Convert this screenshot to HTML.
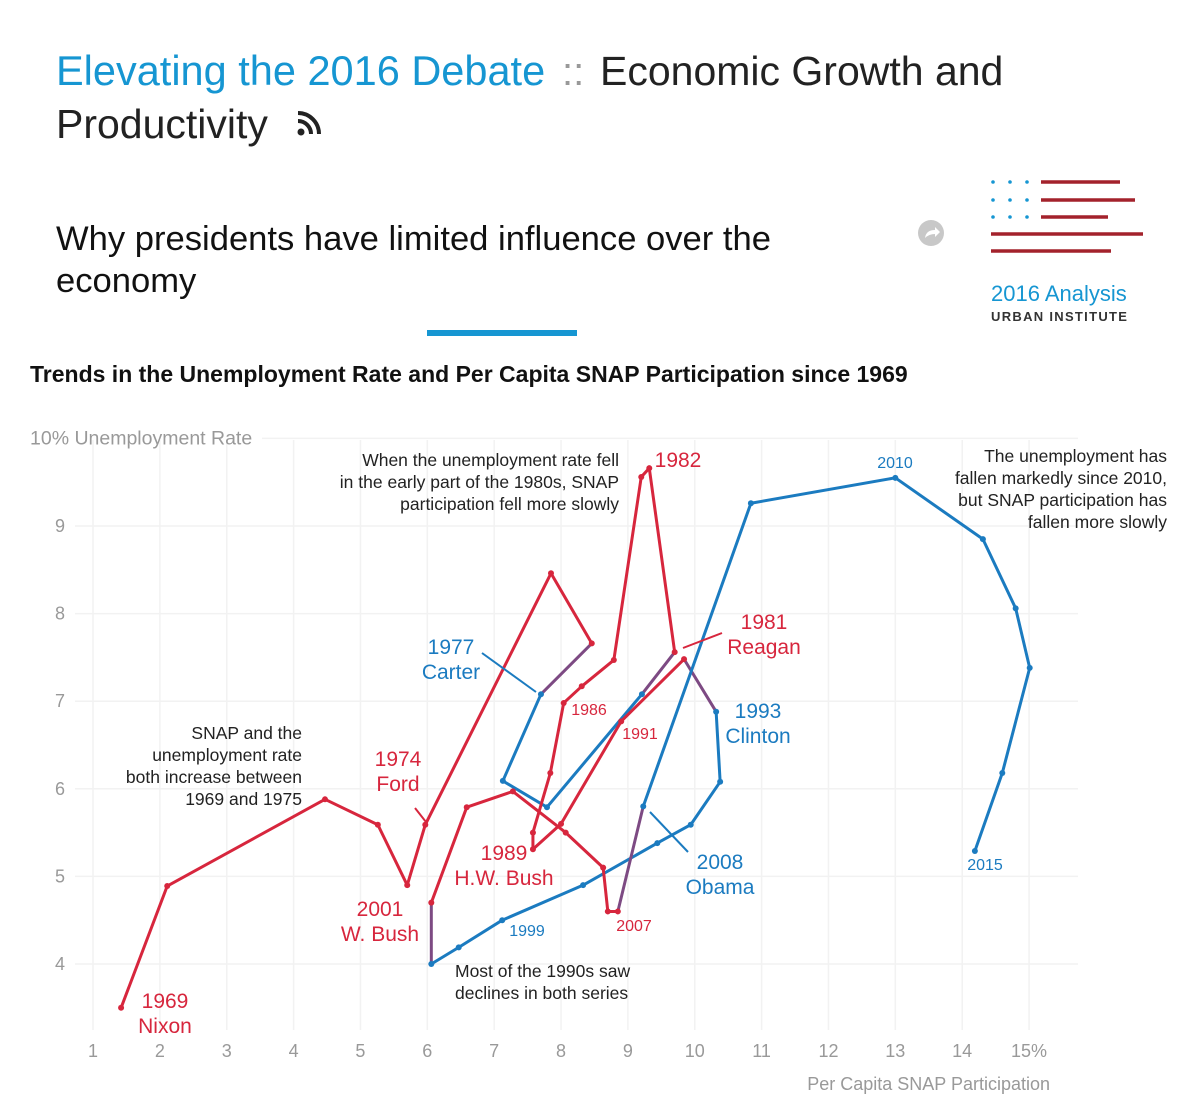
<!DOCTYPE html>
<html><head><meta charset="utf-8">
<style>
html,body{margin:0;padding:0;background:#fff;}
body{width:1200px;height:1107px;overflow:hidden;font-family:"Liberation Sans",sans-serif;}
svg text{font-family:"Liberation Sans",sans-serif;}
</style></head>
<body>
<svg id="chart" width="1200" height="1107" viewBox="0 0 1200 1107" xmlns="http://www.w3.org/2000/svg">
  <g>
    <text x="56" y="85" font-size="41.5" fill="#1696d2">Elevating the 2016 Debate</text>
    <text x="562" y="85" font-size="40" fill="#999">::</text>
    <text x="600" y="85" font-size="41" fill="#222">Economic Growth and</text>
    <text x="56" y="138" font-size="41" fill="#222">Productivity</text>
    <g fill="#222">
      <circle cx="301" cy="132" r="3.5"/>
      <path d="M298 121 a13 13 0 0 1 13 13" stroke="#222" stroke-width="4" fill="none"/>
      <path d="M298 113 a21 21 0 0 1 21 21" stroke="#222" stroke-width="4" fill="none"/>
    </g>
    <text x="56" y="250" font-size="34.6" fill="#111">Why presidents have limited influence over the</text>
    <text x="56" y="292" font-size="34.6" fill="#111">economy</text>
    <rect x="427" y="330" width="150" height="6" fill="#1696d2"/>
    <g>
      <circle cx="931" cy="233" r="13" fill="#c8c8c8"/>
      <path d="M925 238 q1 -8 10 -8 l0 -3 l5 5 l-5 5 l0 -3 q-6 0 -10 4z" fill="#fff"/>
    </g>
    <g>
      <g fill="#1696d2">
        <circle cx="993" cy="182" r="1.8"/><circle cx="1010" cy="182" r="1.8"/><circle cx="1027" cy="182" r="1.8"/>
        <circle cx="993" cy="200" r="1.8"/><circle cx="1010" cy="200" r="1.8"/><circle cx="1027" cy="200" r="1.8"/>
        <circle cx="993" cy="217" r="1.8"/><circle cx="1010" cy="217" r="1.8"/><circle cx="1027" cy="217" r="1.8"/>
      </g>
      <g stroke="#a3222c" stroke-width="3.5">
        <line x1="1041" y1="182" x2="1120" y2="182"/>
        <line x1="1041" y1="200" x2="1135" y2="200"/>
        <line x1="1041" y1="217" x2="1108" y2="217"/>
        <line x1="991" y1="234" x2="1143" y2="234"/>
        <line x1="991" y1="251" x2="1111" y2="251"/>
      </g>
      <text x="991" y="301" font-size="22" fill="#1696d2">2016 Analysis</text>
      <text x="991" y="321" font-size="13" fill="#333" letter-spacing="1.3" font-weight="bold">URBAN INSTITUTE</text>
    </g>
  </g>
  <text x="30" y="382" font-size="23" font-weight="bold" fill="#111">Trends in the Unemployment Rate and Per Capita SNAP Participation since 1969</text>
  <g id="grid"></g>
  <g id="axes"></g>
  <g id="lines"></g>
  <g id="labels"></g>
</svg>
<script>
const years = [1969,1970,1971,1972,1973,1974,1975,1976,1977,1978,1979,1980,1981,1982,1983,1984,1985,1986,1987,1988,1989,1990,1991,1992,1993,1994,1995,1996,1997,1998,1999,2000,2001,2002,2003,2004,2005,2006,2007,2008,2009,2010,2011,2012,2013,2014,2015];
const snap = [1.42,2.11,4.47,5.26,5.70,5.97,7.85,8.46,7.70,7.13,7.79,9.21,9.70,9.32,9.20,8.79,8.31,8.04,7.84,7.58,7.58,8.0,8.90,9.84,10.32,10.38,9.94,9.44,8.33,7.12,6.47,6.06,6.06,6.59,7.28,8.07,8.63,8.70,8.85,9.23,10.84,13.0,14.31,14.80,15.01,14.6,14.19];
const unemp = [3.5,4.89,5.88,5.59,4.9,5.59,8.46,7.66,7.08,6.09,5.79,7.08,7.56,9.66,9.56,7.47,7.17,6.98,6.18,5.5,5.31,5.6,6.77,7.48,6.88,6.08,5.59,5.38,4.9,4.5,4.19,4.0,4.7,5.79,5.97,5.5,5.1,4.6,4.6,5.8,9.26,9.55,8.85,8.06,7.38,6.18,5.29];
const party = ["R","R","R","R","R","R","R","R","D","D","D","D","R","R","R","R","R","R","R","R","R","R","R","R","D","D","D","D","D","D","D","D","R","R","R","R","R","R","R","D","D","D","D","D","D","D","D"];
const xTicks = [1,2,3,4,5,6,7,8,9,10,11,12,13,14,15];
const xTickLabels = ["1","2","3","4","5","6","7","8","9","10","11","12","13","14","15%"];
const yTicks = [4,5,6,7,8,9,10];
const yTickLabels = ["4","5","6","7","8","9","10% Unemployment Rate"];

const NS="http://www.w3.org/2000/svg";
const X = v => 93 + (v-1)*66.86;
const Y = v => 964 - (v-4)*87.6;
const RED="#d7263d", BLUE="#1b7bc0", PURP="#7d4a83";
function mk(tag, attrs, parent){const e=document.createElementNS(NS,tag);for(const k in attrs)e.setAttribute(k,attrs[k]);parent.appendChild(e);return e;}
const grid=document.getElementById('grid'), axes=document.getElementById('axes'), lines=document.getElementById('lines'), labels=document.getElementById('labels');

xTicks.forEach((t,i)=>{
  const l=mk('line',{x1:X(t),x2:X(t),y1:440,y2:1030,stroke:'#f2f2f2','stroke-width':1.5},grid);
  
  
  const tx=mk('text',{x:X(t),y:1057,'font-size':18,fill:'#999','text-anchor':'middle'},axes);
  tx.textContent=xTickLabels[i];
  
  
});
yTicks.forEach((t,i)=>{
  const l=mk('line',{x1:t===10?262:75,x2:1078,y1:Y(t),y2:Y(t),stroke:'#f2f2f2','stroke-width':1.5},grid);
  
  
  const tx=mk('text',{x:t===10?30:65,y:Y(t)+6,'font-size':t===10?19.5:18,fill:'#999','text-anchor':t===10?'start':'end'},axes);
  tx.textContent=yTickLabels[i];
  
  
});
const xt=mk('text',{x:1050,y:1090,'font-size':18,fill:'#999','text-anchor':'end'},axes);
xt.textContent='Per Capita SNAP Participation';



for(let i=0;i<years.length-1;i++){
  const c = party[i]===party[i+1] ? (party[i]==='R'?RED:BLUE) : PURP;
  const s=mk('line',{x1:X(snap[i]),y1:Y(unemp[i]),x2:X(snap[i+1]),y2:Y(unemp[i+1]),stroke:c,'stroke-width':3,'stroke-linecap':'round'},lines);
  
  
}
for(let i=0;i<years.length;i++){
  const p=mk('circle',{cx:X(snap[i]),cy:Y(unemp[i]),r:3,fill:party[i]==='R'?RED:BLUE},lines);
  
  
}

const notes=[
 [165,1008,RED,21,'middle',['1969','Nixon']],
 [398,766,RED,21,'middle',['1974','Ford']],
 [380,916,RED,21,'middle',['2001','W. Bush']],
 [451,654,BLUE,21,'middle',['1977','Carter']],
 [504,860,RED,21,'middle',['1989','H.W. Bush']],
 [764,629,RED,21,'middle',['1981','Reagan']],
 [758,718,BLUE,21,'middle',['1993','Clinton']],
 [720,869,BLUE,21,'middle',['2008','Obama']],
 [678,467,RED,21,'middle',['1982']],
 [589,715,RED,16,'middle',['1986']],
 [640,739,RED,16,'middle',['1991']],
 [527,936,BLUE,16,'middle',['1999']],
 [634,931,RED,16,'middle',['2007']],
 [895,468,BLUE,16,'middle',['2010']],
 [985,870,BLUE,16,'middle',['2015']],
 [619,466,'#222',17.5,'end',['When the unemployment rate fell','in the early part of the 1980s, SNAP','participation fell more slowly']],
 [302,739,'#222',17.5,'end',['SNAP and the','unemployment rate','both increase between','1969 and 1975']],
 [1167,462,'#222',17.5,'end',['The unemployment has','fallen markedly since 2010,','but SNAP participation has','fallen more slowly']],
 [455,977,'#222',17.5,'start',['Most of the 1990s saw','declines in both series']]
];
notes.forEach(n=>{
  const t=mk('text',{x:n[0],y:n[1],fill:n[2],'font-size':n[3],'text-anchor':n[4]},labels);
  
  
  n[5].forEach((s,k)=>{const ts=mk('tspan',{x:n[0],dy:k?(n[3]>=20?25:22):0},t);ts.textContent=s;});
});
const leaders=[[482,653,536,692,BLUE],[722,633,683,648,RED],[415,808,426,822,RED],[650,812,688,852,BLUE]];
leaders.forEach(l=>{
  const e=mk('line',{x1:l[0],y1:l[1],x2:l[2],y2:l[3],stroke:l[4],'stroke-width':2},labels);
  
  
});
</script>
</body></html>
